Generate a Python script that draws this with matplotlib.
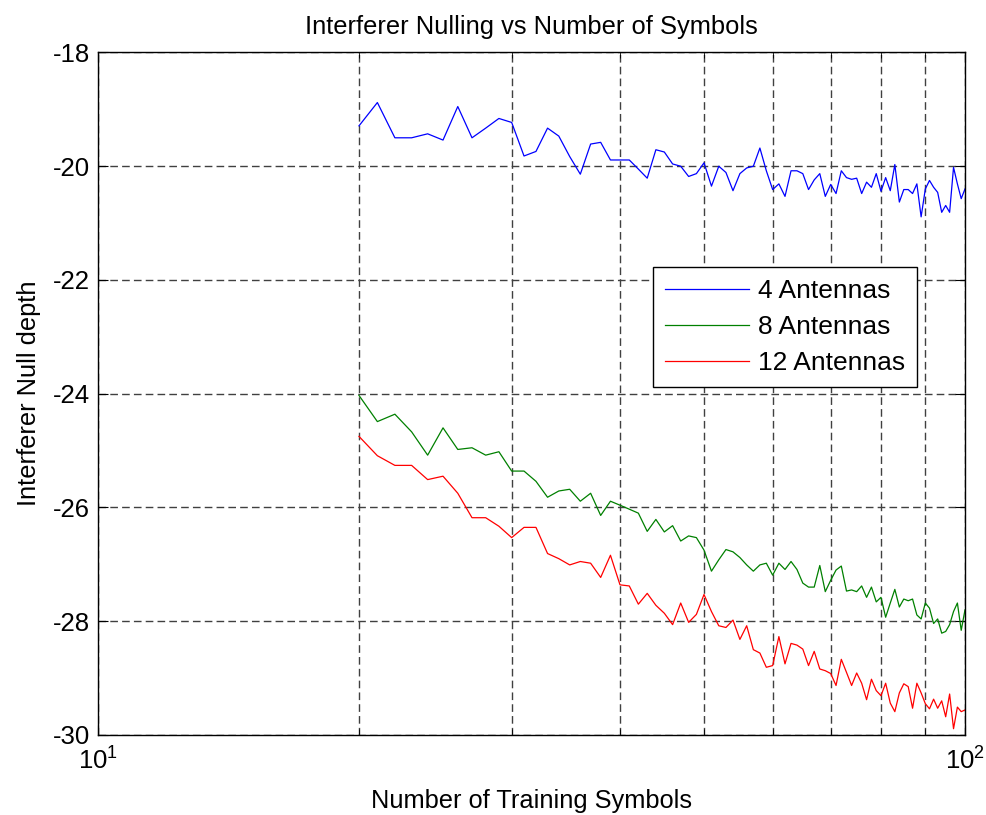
import matplotlib
matplotlib.use('Agg')
import matplotlib.pyplot as plt
from matplotlib.ticker import LogLocator, NullFormatter

plt.rcParams['font.family'] = ['Liberation Sans', 'DejaVu Sans']
plt.rcParams['axes.unicode_minus'] = False

# number of training symbols
symbols = list(range(20, 101))

null_4 = [-19.29, -18.88, -19.50, -19.50, -19.43, -19.54, -18.95, -19.50, -19.33, -19.16,
          -19.23, -19.82, -19.74, -19.33, -19.47, -19.83, -20.14, -19.61, -19.58, -19.89,
          -19.89, -19.89, -20.05, -20.21, -19.71, -19.75, -19.96, -20.00, -20.18, -20.13,
          -19.94, -20.35, -20.00, -20.11, -20.43, -20.13, -20.03, -20.00, -19.68, -20.08,
          -20.41, -20.31, -20.53, -20.08, -20.08, -20.13, -20.41, -20.24, -20.13, -20.53,
          -20.32, -20.48, -20.08, -20.20, -20.23, -20.21, -20.48, -20.28, -20.37, -20.13,
          -20.44, -20.20, -20.43, -19.97, -20.63, -20.41, -20.41, -20.48, -20.31, -20.89,
          -20.40, -20.25, -20.37, -20.46, -20.81, -20.69, -20.81, -20.02, -20.31, -20.57,
          -20.40]

null_8 = [-24.03, -24.49, -24.36, -24.67, -25.08, -24.60, -24.98, -24.95, -25.08, -25.02,
          -25.36, -25.36, -25.54, -25.82, -25.71, -25.68, -25.89, -25.75, -26.14, -25.89,
          -25.96, -26.03, -26.10, -26.42, -26.21, -26.43, -26.32, -26.59, -26.50, -26.53,
          -26.75, -27.12, -26.92, -26.74, -26.78, -26.88, -27.01, -27.12, -27.01, -26.98,
          -27.19, -26.98, -27.09, -26.95, -27.09, -27.33, -27.40, -27.40, -27.02, -27.48,
          -27.28, -27.10, -27.03, -27.47, -27.45, -27.48, -27.38, -27.58, -27.40, -27.66,
          -27.58, -27.93, -27.68, -27.44, -27.75, -27.61, -27.64, -27.61, -27.89, -27.96,
          -27.68, -27.77, -28.04, -27.96, -28.21, -28.18, -28.06, -27.83, -27.68, -28.16,
          -27.80]

null_12 = [-24.75, -25.09, -25.26, -25.26, -25.51, -25.45, -25.75, -26.18, -26.18, -26.33,
           -26.53, -26.35, -26.35, -26.81, -26.90, -27.01, -26.95, -26.98, -27.23, -26.84,
           -27.36, -27.38, -27.70, -27.51, -27.72, -27.86, -28.06, -27.68, -28.02, -27.88,
           -27.53, -27.83, -28.08, -28.11, -27.98, -28.32, -28.08, -28.50, -28.56, -28.81,
           -28.78, -28.27, -28.75, -28.39, -28.42, -28.49, -28.78, -28.53, -28.84, -28.87,
           -28.92, -29.13, -28.67, -28.90, -29.13, -28.91, -29.09, -29.38, -29.02, -29.22,
           -29.31, -29.09, -29.44, -29.59, -29.26, -29.10, -29.15, -29.53, -29.09, -29.26,
           -29.45, -29.54, -29.37, -29.53, -29.40, -29.68, -29.28, -29.89, -29.51, -29.59,
           -29.56]

labels = ['4 Antennas', '8 Antennas', '12 Antennas']
y_ticks = [-30, -28, -26, -24, -22, -20, -18]

fig = plt.figure(figsize=(9.86, 8.15), dpi=100)
ax = fig.add_axes([0.0994, 0.0982, 0.8793, 0.8374])

ax.semilogx(symbols, null_4, color=(0, 0, 1), lw=0.9, label=labels[0])
ax.semilogx(symbols, null_8, color=(0, 0.5, 0), lw=0.9, label=labels[1])
ax.semilogx(symbols, null_12, color=(1, 0, 0), lw=0.9, label=labels[2])

ax.set_xlim(10, 100)
ax.set_ylim(-30, -18)
ax.set_yticks(y_ticks)
ax.xaxis.set_major_locator(LogLocator(base=10, numticks=5))
ax.xaxis.set_minor_locator(LogLocator(base=10, subs=range(2, 10), numticks=20))
ax.xaxis.set_minor_formatter(NullFormatter())

grid_style = dict(color='#404040', lw=1.0, linestyle=(0, (5.5, 3)))
ax.grid(True, which='major', **grid_style)
ax.grid(True, which='minor', axis='x', **grid_style)

ax.tick_params(which='both', direction='in', top=True, right=True, labelsize=18.5)
ax.tick_params(which='major', length=7)
ax.tick_params(which='minor', length=4)
ax.tick_params(axis='x', pad=9)
ax.tick_params(axis='y', pad=6)
for s in ax.spines.values():
    s.set_linewidth(1.0)

ax.set_title('Interferer Nulling vs Number of Symbols', fontsize=18.4, pad=13)
ax.set_xlabel('Number of Training Symbols', fontsize=18.3, labelpad=10)
ax.set_ylabel('Interferer Null depth', fontsize=18.3, labelpad=8)

leg = ax.legend(loc='upper left', bbox_to_anchor=(0.64, 0.685), fontsize=19,
                fancybox=False, framealpha=1, edgecolor='black',
                handlelength=3.2, handletextpad=0.35, borderpad=0.45,
                labelspacing=0.45, borderaxespad=0)
leg.get_frame().set_linewidth(1.0)

fig.savefig('out.png', dpi=100)
